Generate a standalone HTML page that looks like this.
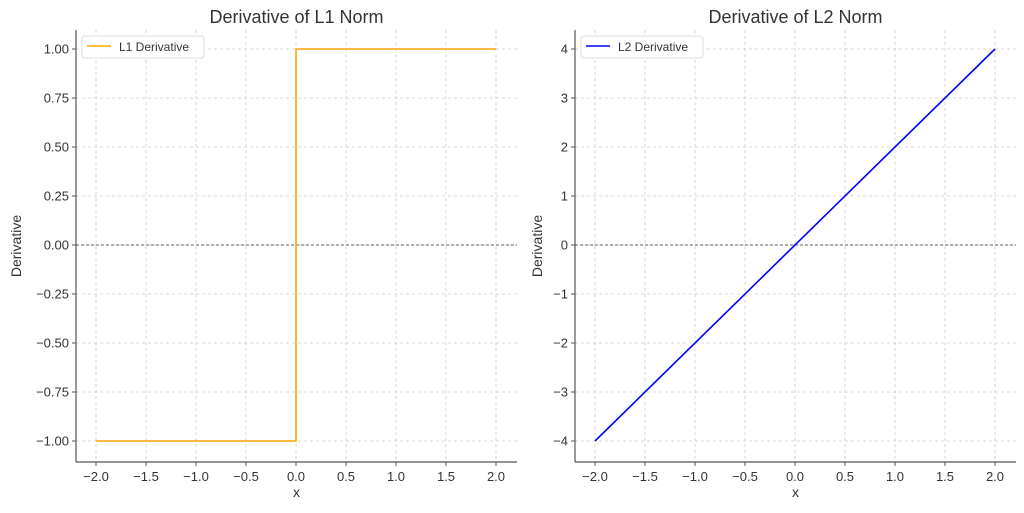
<!DOCTYPE html>
<html><head><meta charset="utf-8"><style>
body{margin:0;background:#fff}
svg text{font-family:"Liberation Sans","DejaVu Sans",sans-serif;fill:#333}
</style></head><body>
<svg id="c" width="1024" height="508" xmlns="http://www.w3.org/2000/svg"></svg>
<script>
const xTicks=[-2.0,-1.5,-1.0,-0.5,0.0,0.5,1.0,1.5,2.0];
const l1Ticks=[-1.0,-0.75,-0.5,-0.25,0,0.25,0.5,0.75,1.0];
const l2Ticks=[-4,-3,-2,-1,0,1,2,3,4];
const l1X=[-2,0,0,2];
const l1Y=[-1,-1,1,1];
const l2X=[-2,2];
const l2Y=[-4,4];
const NS="http://www.w3.org/2000/svg";
const svg=document.getElementById('c');
function mk(tag,attrs,parent){const e=document.createElementNS(NS,tag);for(const k in attrs)e.setAttribute(k,attrs[k]);(parent||svg).appendChild(e);return e;}
function fmtMinus(s){return s.replace('-','\u2212');}
function panel(o){
  const g=mk('g',{});
  
  
  const L=o.left,R=o.left+441,T=30,B=462;
  const sx=v=>o.x0+(v+2)*100;
  const sy=v=>o.yTop+(o.yMax-v)*o.ppu;
  xTicks.forEach(v=>{
    const x=sx(v);
    const gl=mk('line',{x1:x,x2:x,y1:T,y2:B,stroke:'#ccc','stroke-dasharray':'3,3','stroke-width':0.8},g);
    
    mk('line',{x1:x,x2:x,y1:B,y2:B+4,stroke:'#555'},g);
    const t=mk('text',{x:x,y:B+19,'text-anchor':'middle','font-size':13},g);
    t.textContent=fmtMinus(v.toFixed(1));
    
  });
  o.yTicks.forEach(v=>{
    const y=sy(v);
    const gl=mk('line',{x1:L,x2:R,y1:y,y2:y,stroke:'#ccc','stroke-dasharray':'3,3','stroke-width':0.8},g);
    
    mk('line',{x1:L-4,x2:L,y1:y,y2:y,stroke:'#555'},g);
    const t=mk('text',{x:L-7,y:y+4.5,'text-anchor':'end','font-size':13},g);
    t.textContent=fmtMinus(v.toFixed(o.dec));
    
  });
  const z=mk('line',{x1:L,x2:R,y1:sy(0),y2:sy(0),stroke:'#333','stroke-dasharray':'3,2','stroke-width':0.8},g);
  
  let d='';o.xs.forEach((v,i)=>{d+=(i?'L':'M')+sx(v)+','+sy(o.ys[i]);});
  const p=mk('path',{d:d,fill:'none',stroke:o.color,'stroke-width':1.6},g);
  
  mk('line',{x1:L,x2:L,y1:T,y2:B,stroke:'#555','stroke-width':1.2},g);
  mk('line',{x1:L,x2:R,y1:B,y2:B,stroke:'#555','stroke-width':1.2},g);
  const tt=mk('text',{x:(L+R)/2,y:23,'text-anchor':'middle','font-size':18},g);
  tt.textContent=o.title;
  const xl=mk('text',{x:(L+R)/2,y:497,'text-anchor':'middle','font-size':14},g);
  xl.textContent='x';
  const yl=mk('text',{x:0,y:0,'text-anchor':'middle','font-size':14,transform:`translate(${o.ylx},246) rotate(-90)`},g);
  yl.textContent='Derivative';
  const lg=mk('g',{},g);
  
  mk('rect',{x:L+6,y:36,width:122,height:22,rx:3,fill:'#fff',stroke:'#ddd'},lg);
  mk('line',{x1:L+11,x2:L+35,y1:46,y2:46,stroke:o.color,'stroke-width':1.6},lg);
  const lt=mk('text',{x:L+43,y:51,'font-size':12},lg);
  lt.textContent=o.legend;
}
panel({name:'l1-panel',left:76,x0:96,yTop:49,yMax:1,ppu:196,yTicks:l1Ticks,dec:2,xs:l1X,ys:l1Y,color:'#ffa500',seriesName:'l1-derivative-line',title:'Derivative of L1 Norm',legend:'L1 Derivative',ylx:21});
panel({name:'l2-panel',left:575,x0:595,yTop:49,yMax:4,ppu:49,yTicks:l2Ticks,dec:0,xs:l2X,ys:l2Y,color:'#0000ff',seriesName:'l2-derivative-line',title:'Derivative of L2 Norm',legend:'L2 Derivative',ylx:542});
</script>
</body></html>
